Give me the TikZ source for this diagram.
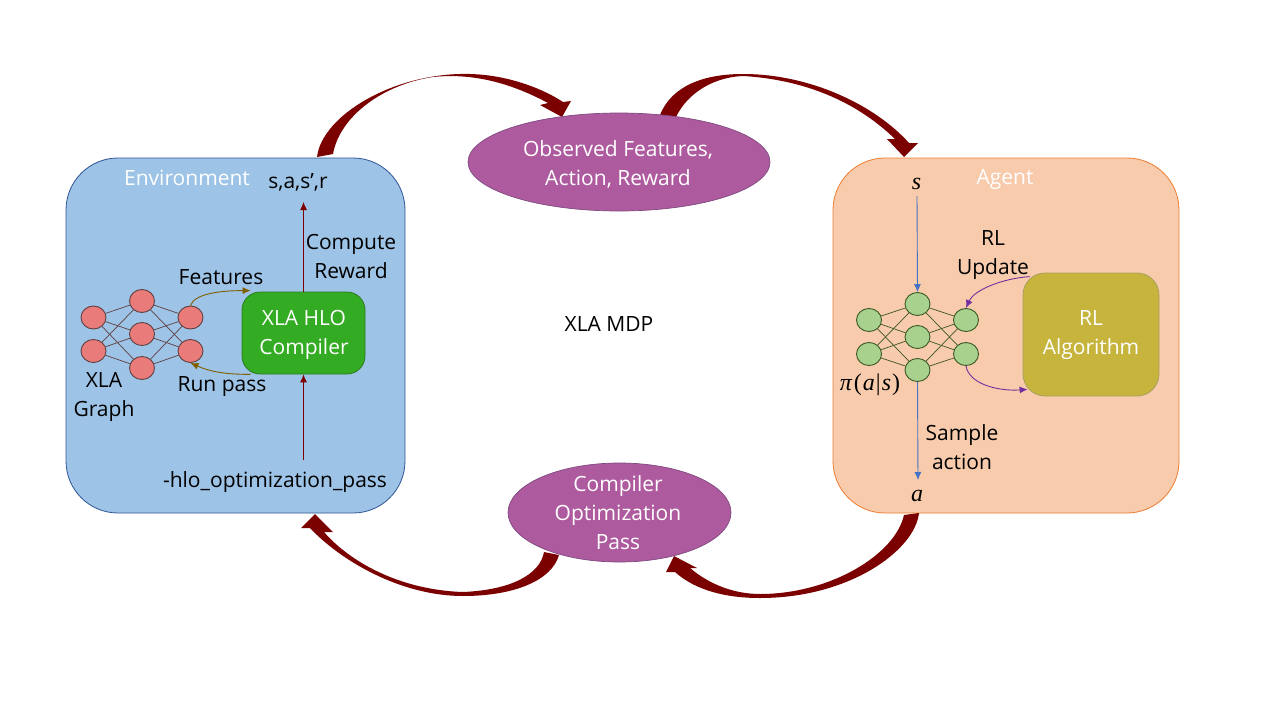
\documentclass[tikz,border=0pt]{standalone}
\usepackage{fontspec}
\setmainfont{Open Sans}
\newfontfamily\mathserif{Liberation Serif}
\usetikzlibrary{arrows.meta,shapes.geometric,calc}
\definecolor{arrowred}{HTML}{7B0000}
\definecolor{envfill}{HTML}{9DC3E6}
\definecolor{envline}{HTML}{2F5597}
\definecolor{agentfill}{HTML}{F8CBAD}
\definecolor{agentline}{HTML}{ED7D31}
\definecolor{ellfill}{HTML}{AE5A9E}
\definecolor{ellline}{HTML}{7F4A7F}
\definecolor{compfill}{HTML}{33AB22}
\definecolor{compline}{HTML}{2C7A1F}
\definecolor{algfill}{HTML}{C7B43C}
\definecolor{algline}{HTML}{A8A060}
\definecolor{rednode}{HTML}{E97B7B}
\definecolor{rededge}{HTML}{5F4040}
\definecolor{greennode}{HTML}{A9D18E}
\definecolor{greenedge}{HTML}{385723}
\definecolor{brownarrow}{HTML}{7F6000}
\definecolor{purplearrow}{HTML}{7030A0}
\definecolor{bluearrow}{HTML}{4472C4}
\newcommand{\bigfont}{\fontsize{21}{29}\selectfont}
\newcommand{\mathtxt}{\fontsize{24}{29}\mathserif\itshape}
\tikzset{
  bigtext/.style={font=\bigfont,align=center,inner sep=0pt},
  whitetext/.style={bigtext,text=white},
  mathlabel/.style={font=\mathtxt,inner sep=0pt},
  panel/.style={rectangle,rounded corners=52pt,line width=0.8pt,minimum width=#1,minimum height=355pt,inner sep=0pt},
  ell/.style={ellipse,fill=ellfill,draw=ellline,line width=0.7pt,inner sep=0pt},
  block/.style={rectangle,line width=0.8pt,inner sep=0pt},
  neur/.style={ellipse,minimum width=25pt,minimum height=23pt,inner sep=0pt,line width=0.9pt},
  rn/.style={neur,fill=rednode,draw=rededge},
  gn/.style={neur,fill=greennode,draw=greenedge},
  thin arrow/.style={-{Latex[length=8pt,width=7pt]},line width=0.9pt},
  bigarrow/.style={fill=arrowred,draw=none}
}
\begin{document}
\begin{tikzpicture}[x=1pt,y=-1pt]
\useasboundingbox (0,0) rectangle (1280,720);
\fill[white] (0,0) rectangle (1280,720);

% panels
\node[panel=339pt,fill=envfill,draw=envline] (env) at (235.5,335.5) {};
\node[panel=346pt,fill=agentfill,draw=agentline] (agent) at (1006,335.5) {};

% big curved arrows
\fill[bigarrow] (317,157) .. controls (322,115) and (395,72) .. (470,74) .. controls (510,75) and (545,90) .. (563,102)
  -- (571,101) -- (562,117) -- (540,105) -- (548,103)
  .. controls (520,88) and (480,72) .. (433,77) .. controls (385,84) and (340,115) .. (333,154) -- cycle;
\fill[bigarrow] (660,115) .. controls (672,85) and (705,74) .. (743,74) .. controls (810,74) and (875,105) .. (909,143)
  -- (918,143) -- (904,157) -- (887,139) -- (895,139)
  .. controls (860,105) and (810,80) .. (743,76) .. controls (715,77) and (688,92) .. (676,117) -- cycle;
\fill[bigarrow] (559,555) .. controls (552,580) and (515,596) .. (463,596) .. controls (400,596) and (340,560) .. (310,528)
  -- (301,528) -- (315,514) -- (333,532) -- (324,532)
  .. controls (350,562) and (400,590) .. (463,592) .. controls (510,590) and (540,575) .. (544,552) -- cycle;
\fill[bigarrow] (919,513) .. controls (915,550) and (850,598) .. (760,598) .. controls (725,598) and (695,590) .. (675,572)
  -- (666,572) -- (674,556) -- (697,568) -- (690,568)
  .. controls (710,585) and (735,594) .. (760,594) .. controls (830,594) and (895,555) .. (904,515) -- cycle;

% ellipses
\node[ell,minimum width=302pt,minimum height=98pt] (obs) at (619,162) {};
\node[whitetext] (obstext) at (618,164.5) {Observed Features,\\Action, Reward};
\node[ell,minimum width=223pt,minimum height=99pt] (cop) at (619.5,512.5) {};
\node[whitetext] (coptext) at (618,513) {Compiler\\Optimization\\Pass};

% blocks
\node[block,fill=compfill,draw=compline,rounded corners=18pt,minimum width=123pt,minimum height=82pt] (comp) at (303.5,333) {};
\node[whitetext] (comptext) at (304,334.5) {XLA HLO\\Compiler};
\node[block,fill=algfill,draw=algline,rounded corners=22pt,minimum width=136pt,minimum height=123pt] (alg) at (1091,334.5) {};
\node[whitetext] (algtext) at (1091,335.5) {RL\\Algorithm};

% red network
\node[rn] (ra) at (93.5,317.5) {};
\node[rn] (rb) at (93.5,351) {};
\node[rn] (rc) at (142,301) {};
\node[rn] (rd) at (142,334) {};
\node[rn] (re) at (142,368) {};
\node[rn] (rf) at (190.5,317.5) {};
\node[rn] (rg) at (190.5,351) {};
\foreach \p/\q in {ra/rc,ra/rd,ra/re,rb/rc,rb/rd,rb/re,rc/rf,rc/rg,rd/rf,rd/rg,re/rf,re/rg}
  \draw[rededge,line width=0.7pt] (\p) -- (\q);

% green network
\node[gn] (ga) at (869,320) {};
\node[gn] (gb) at (869,354) {};
\node[gn] (gc) at (917.5,304) {};
\node[gn] (gd) at (917.5,337) {};
\node[gn] (ge) at (917.5,370) {};
\node[gn] (gf) at (966,320) {};
\node[gn] (gg) at (966,354) {};
\foreach \p/\q in {ga/gc,ga/gd,ga/ge,gb/gc,gb/gd,gb/ge,gc/gf,gc/gg,gd/gf,gd/gg,ge/gf,ge/gg}
  \draw[greenedge,line width=0.7pt] (\p) -- (\q);

% labels
\node[whitetext] (envlab) at (187,177.5) {Environment};
\node[whitetext] (agentlab) at (1005,179) {Agent};
\node[bigtext] (sars) at (298,182) {s,a,s’,r};
\node[bigtext] (reward) at (351,256) {Compute\\Reward};
\node[bigtext] (feat) at (221,277) {Features};
\node[bigtext] (runpass) at (222,387) {Run pass};
\node[bigtext] (xg) at (104,396.5) {XLA\\Graph};
\node[bigtext] (mdp) at (609,324) {XLA MDP};
\node[bigtext] (hlo) at (275,482) {-hlo\_optimization\_pass};
\node[mathlabel] (s) at (916.5,184) {s};
\node[mathlabel] (a) at (917,496) {a};
\node[mathlabel] (pi) at (870,385) {π\kern2pt{\upshape(}\kern1pt a\kern1pt{\upshape|}\kern1pt s\kern1pt{\upshape)}};
\node[bigtext] (upd) at (993,255) {RL\\Update};
\node[bigtext] (samp) at (962,447.5) {Sample\\action};

% free ends of the straight connectors
\coordinate (sarstip) at (303.5,202);
\coordinate (hlostart) at (303.5,460);
\coordinate (sstart) at (917,196);
\coordinate (atip) at (918,480);

% connectors
\draw[thin arrow,arrowred] (comp.north) -- (sarstip);
\draw[thin arrow,arrowred] (hlostart) -- (comp.south);
\draw[thin arrow,bluearrow] (sstart) -- (gc.north);
\draw[thin arrow,bluearrow] (ge.south) -- (atip);
\draw[thin arrow,brownarrow] (rf.north) .. controls +(4,-12) and +(-30,0) .. ($(comp.north west)+(9,-1)$);
\draw[thin arrow,brownarrow] ($(comp.south west)+(9,0)$) .. controls +(-28,0) and +(18,8) .. (rg.south);
\draw[thin arrow,purplearrow] ($(alg.north west)+(7,4)$) .. controls +(-28,2) and +(8,-18) .. (gf.north);
\draw[thin arrow,purplearrow] (gg.south) .. controls +(3,18) and +(-30,2) .. ($(alg.south west)+(5,-7)$);
\end{tikzpicture}
\end{document}
